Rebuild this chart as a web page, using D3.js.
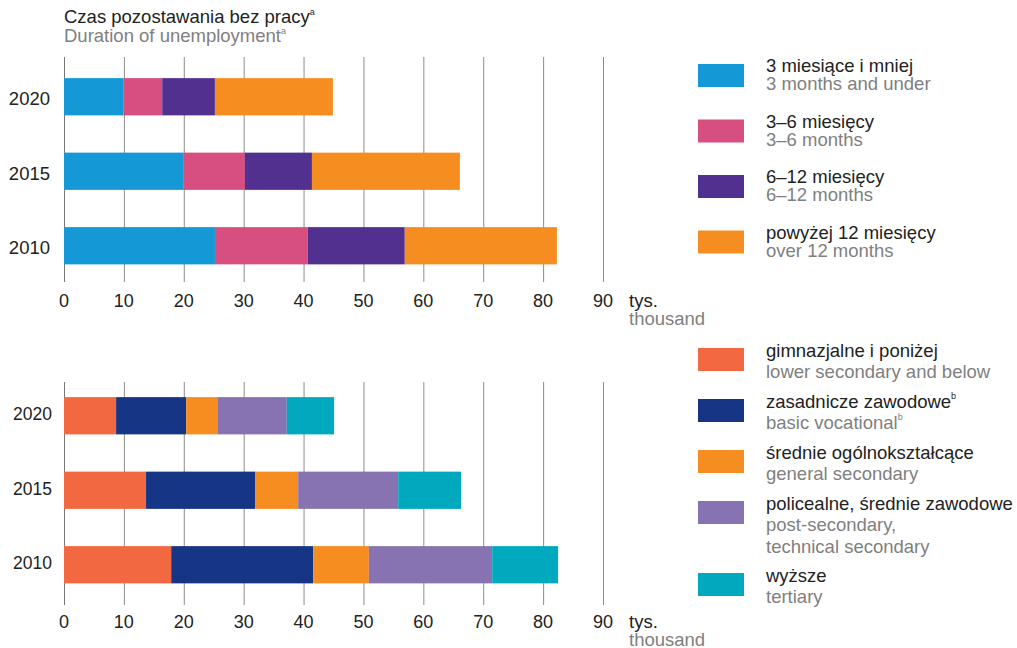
<!DOCTYPE html>
<html><head><meta charset="utf-8">
<script src="https://cdn.jsdelivr.net/npm/d3@7"></script>
<style>
html,body{margin:0;padding:0;background:#fff;}
svg{display:block;font-family:"Liberation Sans",Arial,sans-serif;}
</style></head>
<body>
<svg id="c" width="1017" height="648"></svg>
<script>
const years = ["2020","2015","2010"];
const ticks = [0,10,20,30,40,50,60,70,80,90];

// Chart 1: duration of unemployment (thousand)
const durKeys = ["d3","d3_6","d6_12","d12"];
const durPL = ["3 miesiące i mniej","3–6 miesięcy","6–12 miesięcy","powyżej 12 miesięcy"];
const durEN = ["3 months and under","3–6 months","6–12 months","over 12 months"];
const durColors = ["#1499d6","#d64f80","#523090","#f58d21"];
const dur3 = [9.9, 19.9, 25.2];
const dur3_6 = [6.5, 10.3, 15.5];
const dur6_12 = [8.8, 11.2, 16.2];
const dur12 = [19.7, 24.7, 25.4];

// Chart 2: education level (thousand)
const eduKeys = ["lower","basic","general","post","tertiary"];
const eduPL = ["gimnazjalne i poniżej","zasadnicze zawodowe","średnie ogólnokształcące","policealne, średnie zawodowe","wyższe"];
const eduEN = [["lower secondary and below"],["basic vocational"],["general secondary"],["post-secondary,","technical secondary"],["tertiary"]];
const eduSup = [false,true,false,false,false];
const eduColors = ["#f26841","#163584","#f58d21","#8873b2","#00a9be"];
const eduLower = [8.7, 13.7, 17.9];
const eduBasic = [11.7, 18.2, 23.7];
const eduGeneral = [5.2, 7.2, 9.3];
const eduPost = [11.6, 16.7, 20.6];
const eduTertiary = [7.9, 10.5, 11.0];

const FS = 18.5;
const svg = d3.select("#c");
const x = d3.scaleLinear().domain([0,90]).range([64,603]);

function drawChart(rows, keys, colors, top, bottom, yTop, tickY, yrX, yrDy, yrFs) {
  const g = svg.append("g");
  const y = d3.scaleBand().domain(years).range([yTop, yTop + 3*74.5]).paddingInner(0.5).paddingOuter(0.25);
  g.selectAll("line.grid").data(ticks).join("line")
    .attr("x1", d=>x(d)+0.5).attr("x2", d=>x(d)+0.5)
    .attr("y1", top).attr("y2", bottom)
    .attr("stroke", d=> d===0 ? "#777" : "#8c8c8c").attr("stroke-width", 1);
  const stack = d3.stack().keys(keys)(rows);
  g.selectAll("g.s").data(stack).join("g")
    .attr("fill", (d,i)=>colors[i])
    .selectAll("rect").data(d=>d).join("rect")
    .attr("x", d=>x(d[0])).attr("width", d=>x(d[1])-x(d[0]))
    .attr("y", d=>y(d.data.year)).attr("height", y.bandwidth());
  g.selectAll("text.yr").data(years).join("text")
    .attr("x", yrX).attr("y", d=>y(d)+y.bandwidth()/2+yrDy)
    .attr("text-anchor","end").attr("font-size",yrFs).attr("fill","#222").text(d=>d);
  g.selectAll("text.tk").data(ticks).join("text")
    .attr("x", d=>x(d)).attr("y", tickY).attr("text-anchor","middle")
    .attr("font-size",18).attr("fill","#222").text(d=>d);
  g.append("text").attr("x",629).attr("y",tickY).attr("font-size",FS).attr("fill","#222").text("tys.");
  g.append("text").attr("x",629).attr("y",tickY+18).attr("font-size",FS).attr("fill","#808080").text("thousand");
  return y;
}

const rows1 = years.map((yr,i)=>({year:yr, d3:dur3[i], d3_6:dur3_6[i], d6_12:dur6_12[i], d12:dur12[i]}));
const rows2 = years.map((yr,i)=>({year:yr, lower:eduLower[i], basic:eduBasic[i], general:eduGeneral[i], post:eduPost[i], tertiary:eduTertiary[i]}));

drawChart(rows1, durKeys, durColors, 57, 282, 59.5, 307, 50, 8.5, 18.5);
drawChart(rows2, eduKeys, eduColors, 382, 605, 378.5, 628, 52, 4.5, 17.5);

// title
const t1 = svg.append("text").attr("x",64).attr("y",23).attr("font-size",FS).attr("fill","#222");
t1.append("tspan").text("Czas pozostawania bez pracy");
t1.append("tspan").attr("font-size",9).attr("dy",-8).text("a");
const t2 = svg.append("text").attr("x",64).attr("y",42).attr("font-size",FS).attr("fill","#808080");
t2.append("tspan").text("Duration of unemployment");
t2.append("tspan").attr("font-size",9).attr("dy",-8).text("a");

// legend 1
const lg1 = svg.append("g");
durPL.forEach((p,i)=>{
  const yy = 64 + i*55.5;
  lg1.append("rect").attr("x",698).attr("y",yy).attr("width",46).attr("height",23).attr("fill",durColors[i]);
  lg1.append("text").attr("x",766).attr("y",yy+8).attr("font-size",FS).attr("fill","#222").text(p);
  lg1.append("text").attr("x",766).attr("y",yy+26).attr("font-size",FS).attr("fill","#808080").text(durEN[i]);
});

// legend 2
const lg2 = svg.append("g");
const sw2 = [348,399,450,501,573];
eduPL.forEach((p,i)=>{
  const yy = sw2[i];
  lg2.append("rect").attr("x",698).attr("y",yy).attr("width",46).attr("height",23).attr("fill",eduColors[i]);
  const tp = lg2.append("text").attr("x",766).attr("y",yy+9).attr("font-size",FS).attr("fill","#222");
  tp.append("tspan").text(p);
  if (eduSup[i]) tp.append("tspan").attr("font-size",9).attr("dy",-9).text("b");
  eduEN[i].forEach((e,j)=>{
    const te = lg2.append("text").attr("x",766).attr("y",yy+30+j*22).attr("font-size",FS).attr("fill","#808080");
    te.append("tspan").text(e);
    if (eduSup[i] && j===0) te.append("tspan").attr("font-size",9).attr("dy",-9).text("b");
  });
});
</script>
</body></html>
